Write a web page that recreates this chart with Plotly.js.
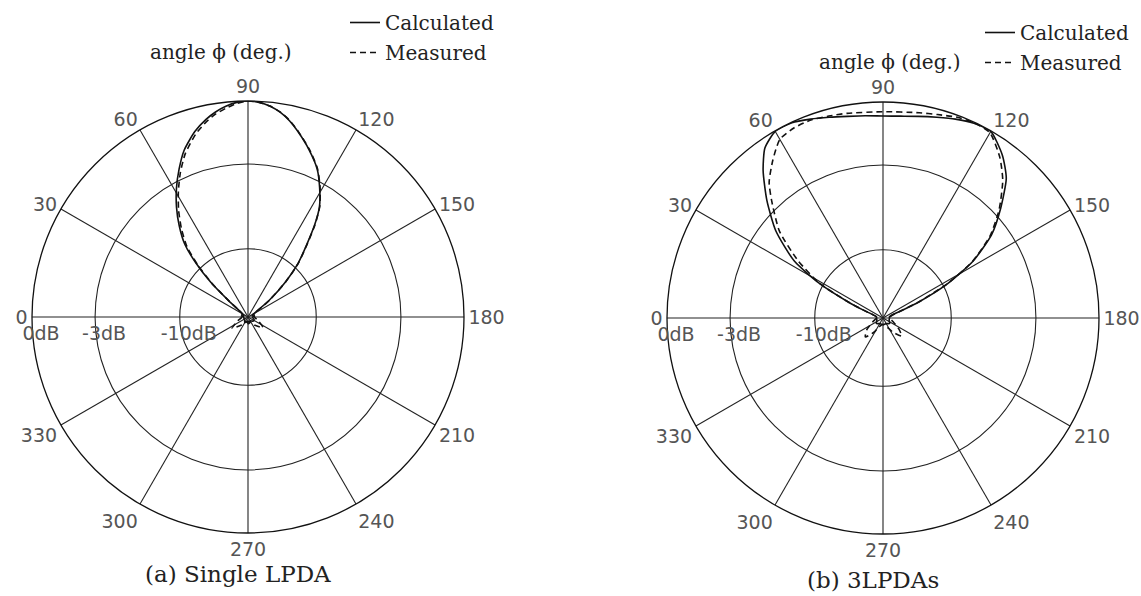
<!DOCTYPE html>
<html>
<head>
<meta charset="utf-8">
<script src="https://cdn.plot.ly/plotly-3.0.1.min.js"></script>
<style>html,body{margin:0;padding:0;background:#fff}</style>
</head>
<body>
<div id="chart" style="width:1141px;height:596px"></div>
<script>
// Angular ticks (deg.) and radial tick labels
const angleTicks = [0, 30, 60, 90, 120, 150, 180, 210, 240, 270, 300, 330];
const angleLabels = ["0", "30", "60", "90", "120", "150", "180", "210", "240", "270", "300", "330"];
const radialTickVals = [0.316, 0.708, 1.0];   // relative field amplitude of -10dB, -3dB, 0dB
const radialTickText = ["-10dB", "-3dB", "0dB"];

// (a) Single LPDA - calculated (relative amplitude)
const aCalcTheta = [0, 10, 20, 30, 36, 40, 43, 46, 49, 53, 57, 61, 65, 69, 74, 78, 81, 84, 87, 90, 93, 96, 99, 102, 105, 110, 115, 119, 123, 126, 129, 133, 137, 142, 146, 150, 160, 170, 180, 200, 220, 240, 260, 270, 280, 300, 320, 340, 360];
const aCalcR = [0.02, 0.03, 0.02, 0.03, 0.05, 0.116, 0.237, 0.346, 0.446, 0.529, 0.608, 0.683, 0.755, 0.826, 0.893, 0.935, 0.961, 0.981, 0.995, 1.0, 0.995, 0.981, 0.959, 0.928, 0.890, 0.825, 0.757, 0.684, 0.607, 0.523, 0.433, 0.340, 0.236, 0.122, 0.05, 0.03, 0.02, 0.03, 0.02, 0.03, 0.03, 0.02, 0.03, 0.03, 0.02, 0.03, 0.02, 0.02, 0.02];

// (a) Single LPDA - measured
const aMeasTheta = [0, 10, 20, 30, 36, 40, 43, 46, 49, 53, 57, 61, 65, 69, 74, 78, 81, 84, 87, 90, 93, 96, 99, 102, 105, 110, 115, 119, 123, 126, 129, 133, 137, 142, 146, 150, 160, 180, 200, 215, 230, 245, 270, 295, 310, 325, 340, 355, 360];
const aMeasR = [0.03, 0.03, 0.03, 0.03, 0.05, 0.11, 0.23, 0.335, 0.43, 0.512, 0.59, 0.665, 0.74, 0.81, 0.88, 0.925, 0.952, 0.972, 0.99, 1.0, 0.995, 0.982, 0.96, 0.93, 0.892, 0.828, 0.76, 0.688, 0.61, 0.527, 0.437, 0.343, 0.238, 0.125, 0.06, 0.04, 0.03, 0.03, 0.05, 0.085, 0.05, 0.03, 0.02, 0.03, 0.05, 0.09, 0.05, 0.03, 0.03];

// (b) 3LPDAs - calculated
const bCalcTheta = [0, 10, 18, 22, 24.6, 28.5, 32.7, 39.1, 45.3, 50.9, 55.2, 60, 65, 70, 75, 80, 85, 90, 95, 100, 105, 110, 115, 120, 126.3, 131.4, 137, 142.5, 147.7, 152, 156, 158, 162, 170, 180, 200, 220, 240, 260, 280, 300, 320, 340, 360];
const bCalcR = [0.03, 0.03, 0.05, 0.10, 0.173, 0.333, 0.488, 0.639, 0.764, 0.880, 0.958, 0.998, 0.998, 0.98, 0.962, 0.948, 0.94, 0.935, 0.938, 0.948, 0.962, 0.98, 0.995, 0.998, 0.934, 0.863, 0.745, 0.634, 0.494, 0.339, 0.179, 0.10, 0.04, 0.03, 0.03, 0.03, 0.04, 0.03, 0.03, 0.03, 0.03, 0.04, 0.03, 0.03];

// (b) 3LPDAs - measured
const bMeasTheta = [0, 10, 18, 22, 24.6, 28.5, 34, 40, 46.5, 50, 55, 60, 65, 70, 75, 80, 90, 100, 105, 110, 115, 120, 126, 131, 137, 142.5, 147.7, 152, 156, 158, 165, 180, 200, 215, 224, 235, 250, 270, 290, 303, 313, 325, 340, 360];
const bMeasR = [0.03, 0.03, 0.05, 0.10, 0.17, 0.33, 0.474, 0.626, 0.749, 0.82, 0.89, 0.955, 0.972, 0.975, 0.968, 0.962, 0.955, 0.965, 0.975, 0.99, 0.998, 0.99, 0.92, 0.845, 0.735, 0.625, 0.49, 0.335, 0.175, 0.09, 0.04, 0.03, 0.05, 0.09, 0.12, 0.08, 0.04, 0.03, 0.04, 0.08, 0.12, 0.09, 0.05, 0.03];

const serif = "DejaVu Serif, serif";
const tickFont = {family: "DejaVu Sans, sans-serif", size: 19, color: "#555"};
const nb = "\u00a0\u00a0\u00a0";   // small lead so labels sit just right of their ring

function calcTrace(theta, r, sub, leg) {
  return {type: "scatterpolar", mode: "lines", theta: theta, r: r, subplot: sub,
    name: "Calculated", legend: leg, legendgroup: leg + "c",
    line: {color: "#111", width: 1.6, shape: "spline", smoothing: 0.6}};
}
function measTrace(theta, r, sub, leg) {
  return {type: "scatterpolar", mode: "lines", theta: theta, r: r, subplot: sub,
    name: "Measured", legend: leg, legendgroup: leg + "m",
    line: {color: "#111", width: 1.6, dash: "6px,4px", shape: "spline", smoothing: 0.6}};
}

const data = [
  calcTrace(aCalcTheta, aCalcR, "polar", "legend"),
  measTrace(aMeasTheta, aMeasR, "polar", "legend"),
  calcTrace(bCalcTheta, bCalcR, "polar2", "legend2"),
  measTrace(bMeasTheta, bMeasR, "polar2", "legend2")
];

function polarAxes(dx, dy) {
  return {
    domain: {x: dx, y: dy},
    bgcolor: "#fff",
    angularaxis: {
      rotation: 180, direction: "clockwise",
      tickmode: "array", tickvals: angleTicks, ticktext: angleLabels,
      ticks: "", showgrid: true, gridcolor: "#222", gridwidth: 1.1,
      showline: true, linecolor: "#111", linewidth: 1.3,
      tickfont: tickFont
    },
    radialaxis: {
      range: [0, 1], tickmode: "array", tickvals: radialTickVals,
      ticktext: radialTickText.map(t => nb + t),
      angle: 180, side: "counterclockwise", tickangle: 180,
      ticks: "", showline: false, showgrid: true, gridcolor: "#222", gridwidth: 1.1,
      tickfont: tickFont
    }
  };
}

const legFont = {family: serif, size: 20, color: "#222"};
const layout = {
  width: 1141, height: 596,
  margin: {l: 0, r: 0, t: 0, b: 0},
  paper_bgcolor: "#fff",
  showlegend: true,
  polar: polarAxes([32/1141, 464/1141], [(596-533)/596, (596-101)/596]),
  polar2: polarAxes([667/1141, 1099/1141], [(596-534)/596, (596-102)/596]),
  legend: {x: 345/1141, y: 1 - 3/596, xanchor: "left", yanchor: "top",
    font: legFont, bgcolor: "rgba(0,0,0,0)", tracegroupgap: 1},
  legend2: {x: 980/1141, y: 1 - 13/596, xanchor: "left", yanchor: "top",
    font: legFont, bgcolor: "rgba(0,0,0,0)", tracegroupgap: 1},
  annotations: [
    {text: "angle ϕ (deg.)", x: 221/1141, y: 1 - 52/596, xref: "paper", yref: "paper",
      xanchor: "center", yanchor: "middle", showarrow: false, font: legFont},
    {text: "angle ϕ (deg.)", x: 890/1141, y: 1 - 62/596, xref: "paper", yref: "paper",
      xanchor: "center", yanchor: "middle", showarrow: false, font: legFont},
    {text: "(a) Single LPDA", x: 238/1141, y: 1 - 574/596, xref: "paper", yref: "paper",
      xanchor: "center", yanchor: "middle", showarrow: false, font: {family: serif, size: 23, color: "#222"}},
    {text: "(b) 3LPDAs", x: 873/1141, y: 1 - 580/596, xref: "paper", yref: "paper",
      xanchor: "center", yanchor: "middle", showarrow: false, font: {family: serif, size: 23, color: "#222"}}
  ]
};

Plotly.newPlot("chart", data, layout, {displayModeBar: false, staticPlot: true});
</script>
</body>
</html>
